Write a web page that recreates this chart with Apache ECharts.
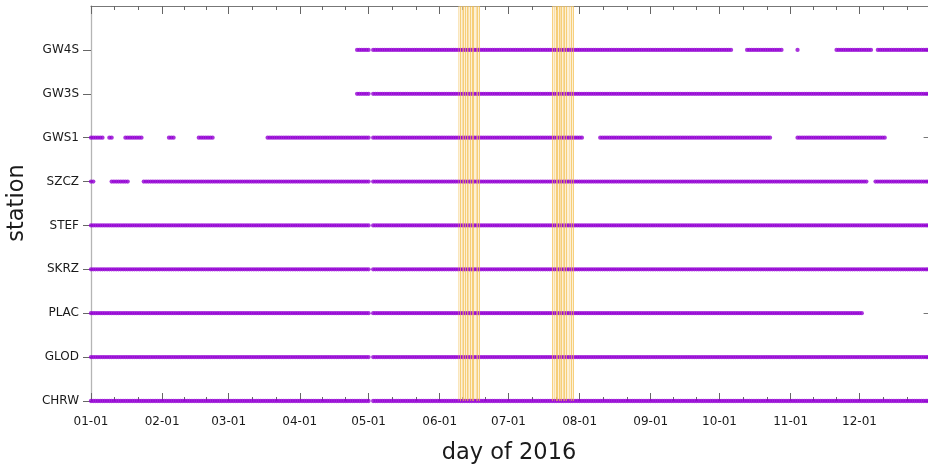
<!DOCTYPE html>
<html>
<head>
<meta charset="utf-8">
<script src="https://cdn.jsdelivr.net/npm/echarts@6/dist/echarts.min.js"></script>
<style>
  html, body { margin: 0; padding: 0; background: #ffffff; }
  #chart { width: 928px; height: 471px; }
</style>
</head>
<body>
<div id="chart"></div>
<script>
// Stations, bottom to top
const stations = ['CHRW', 'GLOD', 'PLAC', 'SKRZ', 'STEF', 'SZCZ', 'GWS1', 'GW3S', 'GW4S'];

// Days with data, as runs of [first day, last day] (MM-DD of 2016)
const CHRW = [['01-01', '05-01'], ['05-03', '12-31']];
const GLOD = [['01-01', '05-01'], ['05-03', '12-31']];
const PLAC = [['01-01', '05-01'], ['05-03', '12-02']];
const SKRZ = [['01-01', '05-01'], ['05-03', '12-31']];
const STEF = [['01-01', '05-01'], ['05-03', '12-31']];
const SZCZ = [['01-01', '01-02'], ['01-10', '01-17'], ['01-24', '05-01'], ['05-03', '12-04'], ['12-08', '12-31']];
const GWS1 = [['01-01', '01-06'], ['01-09', '01-10'], ['01-16', '01-23'], ['02-04', '02-06'], ['02-17', '02-23'],
              ['03-18', '05-01'], ['05-03', '08-02'], ['08-10', '10-23'], ['11-04', '12-12']];
const GW3S = [['04-26', '05-01'], ['05-03', '12-31']];
const GW4S = [['04-26', '05-01'], ['05-03', '10-06'], ['10-13', '10-28'], ['11-04', '11-04'],
              ['11-21', '12-06'], ['12-09', '12-31']];
const runsByStation = [CHRW, GLOD, PLAC, SKRZ, STEF, SZCZ, GWS1, GW3S, GW4S];

// Event times (MM-DD hh:mm) and how strongly each one is drawn
const eventTimesJune = ['06-09 06:00', '06-10 00:00', '06-10 17:00', '06-11 07:00', '06-12 04:00', '06-12 22:00',
                        '06-13 14:00', '06-14 05:00', '06-15 02:00', '06-15 16:00', '06-16 19:00', '06-17 12:00',
                        '06-18 10:00'];
const eventWeightsJune = [0.3, 0.65, 0.3, 0.65, 0.65, 0.65, 0.3, 0.65, 0.65, 0.65, 0.3, 0.65, 0.65];
const eventTimesJuly = ['07-20 05:00', '07-21 00:00', '07-21 15:00', '07-22 09:00', '07-23 00:00', '07-23 14:00',
                        '07-24 03:00', '07-24 22:00', '07-25 11:00', '07-26 05:00', '07-27 12:00', '07-28 11:00',
                        '07-29 09:00'];
const eventWeightsJuly = [0.65, 0.3, 0.65, 0.65, 0.65, 0.3, 0.65, 0.4, 0.65, 0.65, 0.3, 0.65, 0.65];

const YEAR = 2016;
const DAY = 86400000;

function ts(md) {
  const [datePart, timePart] = md.split(' ');
  const [m, d] = datePart.split('-').map(Number);
  let h = 0, mi = 0;
  if (timePart) { [h, mi] = timePart.split(':').map(Number); }
  return Date.UTC(YEAR, m - 1, d, h, mi);
}
function pad(n) { return (n < 10 ? '0' : '') + n; }

// one point per day inside every run
const points = [];
runsByStation.forEach((runs, idx) => {
  runs.forEach(([a, b]) => {
    for (let t = ts(a); t <= ts(b); t += DAY) points.push([t, idx]);
  });
});

const eventLines = [];
const eventBands = [];
[[eventTimesJune, eventWeightsJune], [eventTimesJuly, eventWeightsJuly]].forEach(([times, weights]) => {
  times.forEach((t, i) => {
    eventLines.push({ xAxis: ts(t), lineStyle: { opacity: weights[i] } });
  });
  eventBands.push([{ xAxis: ts(times[0]) }, { xAxis: ts(times[times.length - 1]) }]);
});

const xMin = Date.UTC(YEAR, 0, 1);
const xMax = Date.UTC(YEAR + 1, 0, 1);
const stationTicks = stations.map((s, i) => i);
const FONT = '"DejaVu Sans", sans-serif';

function monthLabel(v) {
  const d = new Date(v);
  if (d.getUTCFullYear() !== YEAR) return '';
  return pad(d.getUTCMonth() + 1) + '-' + pad(d.getUTCDate());
}

function timeAxis(extra) {
  return Object.assign({
    type: 'time', min: xMin, max: xMax,
    minInterval: 28 * DAY, maxInterval: 31 * DAY,
    splitLine: { show: false }
  }, extra);
}

const chart = echarts.init(document.getElementById('chart'), null, { renderer: 'canvas' });
chart.setOption({
  animation: false,
  useUTC: true,
  backgroundColor: '#ffffff',
  grid: [
    // main plotting area
    { left: 91, right: -2.6, top: 6, bottom: 70, containLabel: false, outerBoundsMode: 'none' },
    // thin strip along the top border that carries the mirrored date ticks
    { left: 91, right: -2.6, top: 5, height: 1, containLabel: false, outerBoundsMode: 'none' }
  ],
  xAxis: [
    timeAxis({
      gridIndex: 0, position: 'bottom',
      axisLine: { show: true, lineStyle: { color: '#777', opacity: 0 } },
      axisTick: { show: true, inside: true, length: 8, lineStyle: { color: '#666', width: 1 } },
      minorTick: { show: true, splitNumber: 3, length: 4, lineStyle: { color: '#666', width: 1 } },
      axisLabel: {
        show: true, margin: 15, color: '#1a1a1a', fontSize: 12, fontFamily: FONT,
        showMaxLabel: false, formatter: monthLabel
      }
    }),
    timeAxis({
      gridIndex: 1, position: 'bottom',
      axisLine: { show: true, lineStyle: { color: '#777', width: 1.2 } },
      axisTick: { show: true, inside: false, length: 8, lineStyle: { color: '#666', width: 1 } },
      minorTick: { show: true, splitNumber: 3, length: 4, lineStyle: { color: '#666', width: 1 } },
      axisLabel: { show: true, color: 'rgba(0,0,0,0)', fontSize: 1, formatter: () => '' }
    })
  ],
  yAxis: [
    {
      gridIndex: 0, type: 'value', min: 0, max: 9, interval: 1, position: 'left',
      axisLine: { show: true, lineStyle: { color: '#b5b5b5', width: 1.3 } },
      axisTick: { show: true, inside: false, length: 8, customValues: stationTicks, lineStyle: { color: '#666' } },
      splitLine: { show: false },
      axisLabel: {
        show: true, margin: 12, color: '#1a1a1a', fontSize: 12, fontFamily: FONT,
        customValues: stationTicks,
        formatter: v => stations[v] || ''
      }
    },
    {
      gridIndex: 0, type: 'value', min: 0, max: 9, interval: 1, position: 'right',
      axisLine: { show: false },
      axisTick: { show: true, inside: true, length: 7, customValues: stationTicks, lineStyle: { color: '#777' } },
      splitLine: { show: false },
      axisLabel: { show: false }
    },
    {
      gridIndex: 1, type: 'value', min: 0, max: 1, show: false
    }
  ],
  series: [
    {
      name: 'event bands', type: 'scatter', data: [], z: 1, silent: true,
      markArea: {
        silent: true,
        itemStyle: { color: '#fbe3b4', opacity: 0.55 },
        data: eventBands
      }
    },
    {
      name: 'availability', type: 'scatter', data: points, z: 2, clip: false,
      symbol: 'circle', symbolSize: 4.3,
      itemStyle: { color: '#9400d3' },
      silent: true
    },
    {
      name: 'events', type: 'scatter', data: [], z: 3, silent: true,
      markLine: {
        silent: true, symbol: ['none', 'none'], animation: false,
        label: { show: false },
        lineStyle: { color: '#f2bb45', width: 1, type: 'solid' },
        data: eventLines
      }
    },
    {
      name: 'top ticks', type: 'scatter', data: [], xAxisIndex: 1, yAxisIndex: 2, silent: true
    }
  ],
  graphic: [
    {
      type: 'text', id: 'xname',
      x: 509, y: 453,
      style: {
        text: 'day of 2016', fontSize: 22.5, fontFamily: FONT, fill: '#1a1a1a',
        align: 'center', verticalAlign: 'middle'
      }
    },
    {
      type: 'text', id: 'yname',
      x: 17, y: 203, rotation: Math.PI / 2,
      style: {
        text: 'station', fontSize: 22.5, fontFamily: FONT, fill: '#1a1a1a',
        align: 'center', verticalAlign: 'middle'
      }
    }
  ]
});
</script>
</body>
</html>
